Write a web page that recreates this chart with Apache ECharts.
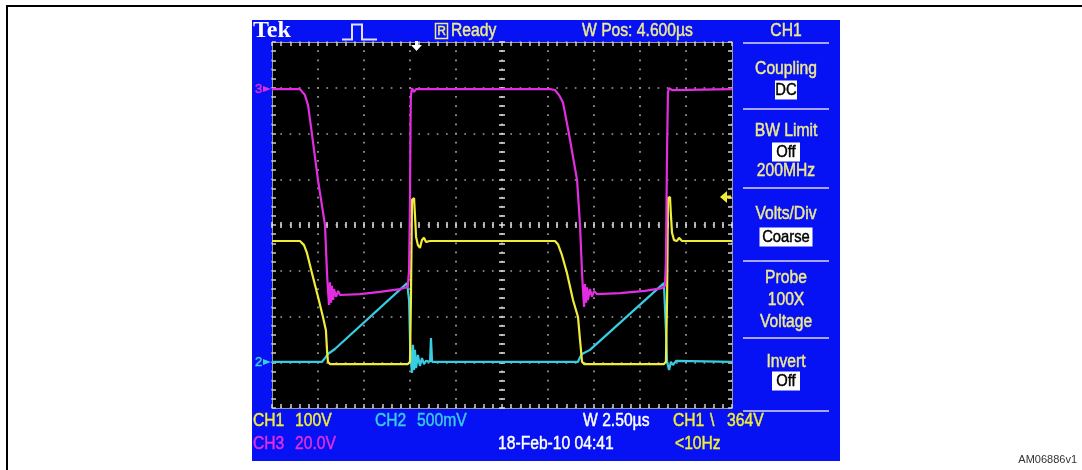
<!DOCTYPE html>
<html><head><meta charset="utf-8">
<script src="https://cdn.jsdelivr.net/npm/echarts@6/dist/echarts.min.js"></script>
<style>html,body{margin:0;padding:0;background:#fff}#c{width:1082px;height:470px}</style>
</head><body><div id="c"></div>
<script>
// time axis: 2.50 us/div, 10 divisions; vertical: 8 divisions (values in divisions)
const timeMin = 0, timeMax = 25, timeStep = 2.5;
const divMin = -4, divMax = 4, divStep = 1;

// CH2 (cyan) [time us, divisions]
const ch2Points = [[0,-2.99],[2.72,-2.99],[2.88,-2.91],[3.04,-2.82],[3.42,-2.71],[7.34,-1.27],[7.39,-1.27],[7.45,-1.64],[7.50,-2.51],[7.55,-2.99],[7.61,-3.23],[7.66,-2.62],[7.72,-3.17],[7.77,-2.73],[7.83,-3.13],[7.93,-2.84],[8.04,-3.08],[8.15,-2.91],[8.26,-3.04],[8.37,-2.97],[8.59,-2.99],[8.64,-2.47],[8.70,-2.99],[16.63,-2.99],[16.74,-2.89],[16.85,-2.82],[17.28,-2.73],[21.30,-1.27],[21.36,-1.27],[21.41,-2.30],[21.47,-2.99],[21.58,-3.17],[21.68,-2.99],[21.79,-3.06],[21.96,-2.97],[25,-2.99]];
// CH1 (yellow)
const ch1Points = [[0,-0.35],[1.52,-0.35],[1.74,-0.44],[1.90,-0.61],[2.17,-1.05],[2.50,-1.57],[2.77,-2.01],[2.93,-2.30],[2.99,-2.73],[3.04,-2.99],[3.15,-3.04],[7.39,-3.04],[7.50,-2.99],[7.55,-1.64],[7.61,0.55],[7.72,0.59],[7.77,0.22],[7.83,-0.26],[7.93,-0.44],[8.04,-0.50],[8.15,-0.33],[8.26,-0.28],[8.37,-0.37],[8.59,-0.35],[15.38,-0.35],[15.54,-0.42],[15.76,-0.66],[16.03,-1.05],[16.36,-1.64],[16.63,-2.01],[16.74,-2.51],[16.79,-2.73],[16.85,-2.99],[16.96,-3.04],[21.30,-3.04],[21.41,-2.99],[21.47,-1.64],[21.52,0.59],[21.63,0.61],[21.68,0.22],[21.74,-0.17],[21.85,-0.33],[22.01,-0.35],[22.12,-0.28],[22.28,-0.35],[25,-0.35]];
// CH3 (magenta)
const ch3Points = [[0,2.97],[1.52,2.97],[1.79,2.84],[1.96,2.62],[2.17,1.99],[2.5,0.98],[2.88,0],[2.99,-1.05],[3.04,-1.42],[3.10,-1.75],[3.15,-1.25],[3.21,-1.70],[3.26,-1.33],[3.32,-1.64],[3.37,-1.40],[3.48,-1.57],[3.59,-1.44],[3.70,-1.53],[4.78,-1.51],[5.87,-1.46],[6.96,-1.40],[7.34,-1.36],[7.39,-1.31],[7.45,-0.98],[7.50,0.55],[7.53,2.30],[7.55,2.84],[7.61,2.99],[7.72,2.91],[7.83,2.97],[15.11,2.97],[15.38,2.95],[15.60,2.84],[15.82,2.67],[16.14,1.99],[16.58,0.98],[16.74,0],[16.85,-1.05],[16.90,-1.42],[16.96,-1.79],[17.01,-1.29],[17.07,-1.70],[17.12,-1.36],[17.17,-1.64],[17.28,-1.40],[17.39,-1.57],[17.50,-1.44],[17.66,-1.51],[18.91,-1.49],[20.27,-1.44],[21.20,-1.38],[21.36,-1.33],[21.41,-0.77],[21.47,1.64],[21.52,2.91],[21.58,2.99],[21.74,2.95],[25,2.97]];

const topTexts = ['Tek', 'Ready', 'W Pos: 4.600\u00b5s'];
const menuTitle = 'CH1';
const menuLabels = ['Coupling', 'BW Limit', '200MHz', 'Volts/Div', 'Probe', '100X', 'Voltage', 'Invert'];
const menuBoxes = ['DC', 'Off', 'Coarse', 'Off'];
const statusRow1 = ['CH1', '100V', 'CH2', '500mV', 'W 2.50\u00b5s', 'CH1', '\\', '364V'];
const statusRow2 = ['CH3', '20.0V', '18-Feb-10 04:41', '<10Hz'];
const figId = 'AM06886v1';

const FONT = '"Liberation Sans", Arial, sans-serif';
const SX = 0.87;
const C_BLUE = '#0612f4', C_PALE = '#eee98e', C_YEL = '#f0ec3a', C_CYAN = '#38cde2', C_MAG = '#e22ee0', C_WHITE = '#ffffff', C_SEP = '#a6a6ff';

function T(x, y, text, fill, size, o) {
  o = o || {};
  return { type: 'text', x: x, y: y, scaleX: o.sx != null ? o.sx : SX, z: 30,
    style: { x: 0, y: 0, text: text, fill: fill, stroke: o.noStroke ? null : fill, lineWidth: o.noStroke ? 0 : 0.45,
      font: (o.weight || 'normal') + ' ' + size + 'px ' + (o.family || FONT), align: o.align || 'left', verticalAlign: 'middle' } };
}
function boxText(cx, cy, w, text) {
  return [
    { type: 'rect', z: 25, shape: { x: cx - w / 2, y: cy - 9.5, width: w, height: 19 }, style: { fill: '#ffffff' } },
    T(cx, cy + 0.5, text, '#000000', 17, { align: 'center' })
  ];
}
function sep(y) { return { type: 'line', z: 25, shape: { x1: 743, y1: y, x2: 829, y2: y }, style: { stroke: C_SEP, lineWidth: 2 } }; }

const PX = 786;
const graphics = [
  { type: 'rect', z: -10, shape: { x: 7, y: 6, width: 1200, height: 600 }, style: { fill: '#ffffff', stroke: '#000000', lineWidth: 2 } },
  { type: 'rect', z: -5, shape: { x: 252, y: 20, width: 588, height: 441 }, style: { fill: C_BLUE } },
  T(253, 31, topTexts[0], C_WHITE, 24, { family: '"Liberation Serif", serif', weight: 'bold', sx: 1, noStroke: true }),
  { type: 'polyline', z: 25, shape: { points: [[342, 39.5], [352, 39.5], [352, 24.5], [362, 24.5], [362, 39.5], [377, 39.5]] }, style: { stroke: '#e0e0ff', lineWidth: 2, fill: null } },
  { type: 'rect', z: 25, shape: { x: 435.5, y: 23.5, width: 12, height: 15 }, style: { fill: null, stroke: C_PALE, lineWidth: 1.5 } },
  T(441.5, 31.5, 'R', C_PALE, 12, { align: 'center', sx: 1 }),
  T(451, 31, topTexts[1], C_PALE, 18),
  T(582, 31, topTexts[2], C_PALE, 18),
  T(PX, 31, menuTitle, C_PALE, 18, { align: 'center' }),
  sep(43),
  T(PX, 69, menuLabels[0], C_PALE, 18, { align: 'center' }),
  ...boxText(PX, 90, 22, menuBoxes[0]),
  sep(109),
  T(PX, 131, menuLabels[1], C_PALE, 18, { align: 'center' }),
  ...boxText(PX, 152, 28, menuBoxes[1]),
  T(PX, 171, menuLabels[2], C_PALE, 18, { align: 'center' }),
  sep(188),
  T(PX, 214, menuLabels[3], C_PALE, 18, { align: 'center' }),
  ...boxText(PX, 237, 53, menuBoxes[2]),
  sep(261),
  T(PX, 278, menuLabels[4], C_PALE, 18, { align: 'center' }),
  T(PX, 300, menuLabels[5], C_PALE, 18, { align: 'center' }),
  T(PX, 322, menuLabels[6], C_PALE, 18, { align: 'center' }),
  sep(338),
  T(PX, 362, menuLabels[7], C_PALE, 18, { align: 'center' }),
  ...boxText(PX, 381, 28, menuBoxes[3]),
  sep(411),
  // status rows
  T(253, 421, statusRow1[0], C_YEL, 18),
  T(295, 421, statusRow1[1], C_YEL, 18),
  T(375, 421, statusRow1[2], C_CYAN, 18),
  T(417, 421, statusRow1[3], C_CYAN, 18),
  T(583, 421, statusRow1[4], C_WHITE, 18),
  T(673, 421, statusRow1[5], C_YEL, 18),
  T(710, 421, statusRow1[6], C_YEL, 18),
  T(727, 421, statusRow1[7], C_YEL, 18),
  T(253, 444, statusRow2[0], C_MAG, 18),
  T(295, 444, statusRow2[1], C_MAG, 18),
  T(498, 444, statusRow2[2], C_WHITE, 18),
  T(675, 444, statusRow2[3], C_YEL, 18),
  // channel markers
  T(255, 89, '3', C_MAG, 13, { sx: 1 }),
  { type: 'polygon', z: 30, shape: { points: [[263, 86], [271, 89], [263, 92]] }, style: { fill: C_MAG } },
  T(255, 362, '2', C_CYAN, 13, { sx: 1 }),
  { type: 'polygon', z: 30, shape: { points: [[263, 359], [271, 362], [263, 365]] }, style: { fill: C_CYAN } },
  // trigger markers
  { type: 'polygon', z: 30, shape: { points: [[411, 45], [422, 45], [416.5, 51]] }, style: { fill: '#ffffff' } },
  { type: 'rect', z: 30, shape: { x: 415, y: 41, width: 3, height: 5 }, style: { fill: '#ffffff' } },
  { type: 'polygon', z: 30, shape: { points: [[720, 197], [727, 191], [727, 203]] }, style: { fill: C_YEL } },
  { type: 'rect', z: 30, shape: { x: 726, y: 195.5, width: 5, height: 3 }, style: { fill: C_YEL } },
  T(1077, 460, figId, '#333333', 11, { align: 'right', sx: 1, noStroke: true })
];

function xAx(extra) {
  return Object.assign({
    type: 'value', min: timeMin, max: timeMax, interval: timeStep,
    axisLabel: { show: false },
    axisLine: { show: true, onZero: false, lineStyle: { color: '#9a9a9a', width: 1 } },
    axisTick: { show: true, inside: true, length: 4, lineStyle: { color: '#d0d0d0', width: 1.5 } },
    minorTick: { show: true, splitNumber: 5, length: 4, lineStyle: { color: '#d0d0d0', width: 1.5 } },
    splitLine: { show: false }
  }, extra);
}
function yAx(extra) {
  return Object.assign({
    type: 'value', min: divMin, max: divMax, interval: divStep,
    axisLabel: { show: false },
    axisLine: { show: true, onZero: false, lineStyle: { color: '#9a9a9a', width: 1 } },
    axisTick: { show: true, inside: true, length: 4, lineStyle: { color: '#d0d0d0', width: 1.5 } },
    minorTick: { show: true, splitNumber: 5, length: 4, lineStyle: { color: '#d0d0d0', width: 1.5 } },
    splitLine: { show: false }
  }, extra);
}
const centerLine = { show: false, onZero: false };
const centerTick = { show: true, inside: true, length: 3, lineStyle: { color: '#e0e0e0', width: 1.5 } };

const chart = echarts.init(document.getElementById('c'), null, { renderer: 'canvas' });
chart.setOption({
  animation: false,
  backgroundColor: '#ffffff',
  grid: { left: 272, top: 42, width: 460, height: 366, show: true, backgroundColor: '#000000', borderWidth: 0, containLabel: false },
  xAxis: [
    xAx({ position: 'bottom', splitLine: { show: true, lineStyle: { color: '#a0a0a0', width: 1.7, type: [1.7, 7.45], dashOffset: 0.85 } } }),
    xAx({ position: 'top' }),
    xAx({ position: 'bottom', offset: -183, axisLine: centerLine, axisTick: centerTick, minorTick: Object.assign({ splitNumber: 5 }, centerTick) }),
    xAx({ position: 'top', offset: -183, axisLine: centerLine, axisTick: centerTick, minorTick: Object.assign({ splitNumber: 5 }, centerTick) })
  ],
  yAxis: [
    yAx({ position: 'left', splitLine: { show: true, lineStyle: { color: '#a0a0a0', width: 1.7, type: [1.7, 7.5], dashOffset: 0.85 } } }),
    yAx({ position: 'right' }),
    yAx({ position: 'left', offset: -230, axisLine: centerLine, axisTick: centerTick, minorTick: Object.assign({ splitNumber: 5 }, centerTick) }),
    yAx({ position: 'right', offset: -230, axisLine: centerLine, axisTick: centerTick, minorTick: Object.assign({ splitNumber: 5 }, centerTick) })
  ],
  series: [
    { type: 'line', name: 'CH2', data: ch2Points, xAxisIndex: 0, yAxisIndex: 0, showSymbol: false, lineStyle: { color: C_CYAN, width: 2.2 }, z: 3 },
    { type: 'line', name: 'CH1', data: ch1Points, xAxisIndex: 0, yAxisIndex: 0, showSymbol: false, lineStyle: { color: C_YEL, width: 2.2 }, z: 4 },
    { type: 'line', name: 'CH3', data: ch3Points, xAxisIndex: 0, yAxisIndex: 0, showSymbol: false, lineStyle: { color: C_MAG, width: 2.2 }, z: 5 }
  ],
  graphic: { elements: graphics }
});
</script></body></html>
